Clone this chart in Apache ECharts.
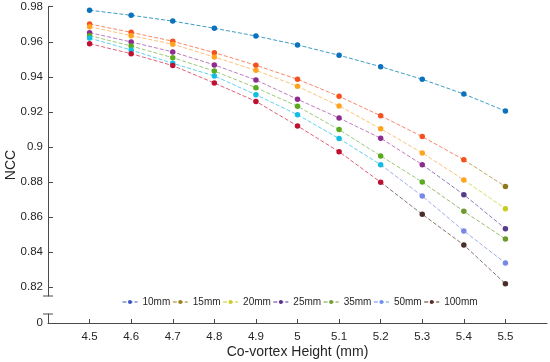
<!DOCTYPE html>
<html>
<head>
<meta charset="utf-8">
<script src="https://cdn.jsdelivr.net/npm/echarts@6/dist/echarts.min.js"></script>
<style>html,body{margin:0;padding:0;background:#fff}#c{width:550px;height:362px}</style>
</head>
<body>
<div id="c"></div>
<script>
// ---- data ----
const heights = [4.5, 4.6, 4.7, 4.8, 4.9, 5.0, 5.1, 5.2, 5.3, 5.4, 5.5];
const seriesNames = ['10mm', '15mm', '20mm', '25mm', '35mm', '50mm', '100mm'];
const ncc10  = [0.9780, 0.9751, 0.9718, 0.9677, 0.9633, 0.9582, 0.9523, 0.9458, 0.9386, 0.9302, 0.9205];
const ncc15  = [0.9701, 0.9654, 0.9603, 0.9538, 0.9466, 0.9386, 0.9289, 0.9178, 0.9059, 0.8927, 0.8774];
const ncc20  = [0.9686, 0.9635, 0.9586, 0.9513, 0.9437, 0.9346, 0.9234, 0.9104, 0.8966, 0.8812, 0.8648];
const ncc25  = [0.9652, 0.9599, 0.9542, 0.9468, 0.9382, 0.9272, 0.9165, 0.9050, 0.8899, 0.8728, 0.8534];
const ncc35  = [0.9635, 0.9576, 0.9509, 0.9433, 0.9338, 0.9232, 0.9099, 0.8949, 0.8800, 0.8633, 0.8475];
const ncc50  = [0.9621, 0.9553, 0.9477, 0.9405, 0.9298, 0.9184, 0.9048, 0.8899, 0.8720, 0.8521, 0.8338];
const ncc100 = [0.9589, 0.9532, 0.9464, 0.9365, 0.9260, 0.9120, 0.8973, 0.8799, 0.8616, 0.8441, 0.8220];
const yTickValues = [0.82, 0.84, 0.86, 0.88, 0.9, 0.92, 0.94, 0.96, 0.98];
const xTickValues = [4.5, 4.6, 4.7, 4.8, 4.9, 5, 5.1, 5.2, 5.3, 5.4, 5.5];
const bottomTickValues = [0];
// index from which points are drawn in the second (overlay) colour
const tailStart = [null, 10, 10, 9, 9, 8, 8];

// ---- styles ----
const allValues = [ncc10, ncc15, ncc20, ncc25, ncc35, ncc50, ncc100];
const markerColors = ['#0b72bd', '#f4511e', '#ffa41f', '#8e2c8e', '#5aaa1e', '#13bde2', '#c0102f'];
const lineColors   = ['#3d9dc6', '#f9896a', '#fdc27c', '#c07bc0', '#9acb78', '#5fd3ec', '#e06078'];
const tailMarker   = [null, '#8c7a1e', '#c8cc22', '#563a8c', '#6c9a2c', '#7888e8', '#4a2e2a'];
const tailLine     = [null, '#c0a864', '#d8dc6a', '#8e78b8', '#9cbc6e', '#a0acf0', '#8a7470'];
const legendColors = ['#3f55c4', '#9c7e1c', '#cccc22', '#5a2f8f', '#6fa030', '#6e90ee', '#5a2c26'];

const FONT = 'Liberation Sans, Arial, Helvetica, sans-serif';
const AXIS_COLOR = '#4a4a4a';
const TEXT_COLOR = '#262626';
const DASH = [4, 2];

const series = [];
seriesNames.forEach((name, i) => {
  const vals = allValues[i];
  const ts = tailStart[i];
  const mainEnd = ts == null ? heights.length : ts;
  series.push({
    name: name,
    type: 'line',
    xAxisIndex: 0, yAxisIndex: 0,
    z: 4,
    symbol: 'circle', symbolSize: 5.5,
    showAllSymbol: true,
    itemStyle: { color: markerColors[i] },
    lineStyle: { color: lineColors[i], width: 1, type: DASH },
    emphasis: { disabled: true },
    animation: false,
    data: heights.slice(0, mainEnd).map((h, j) => [h, vals[j]])
  });
  if (ts != null) {
    const tailData = [];
    for (let j = ts - 1; j < heights.length; j++) {
      if (j === ts - 1) tailData.push({ value: [heights[j], vals[j]], symbolSize: 0 });
      else tailData.push([heights[j], vals[j]]);
    }
    series.push({
      name: name + '_tail',
      type: 'line',
      xAxisIndex: 0, yAxisIndex: 0,
      z: 3,
      symbol: 'circle', symbolSize: 5.5,
      showAllSymbol: true,
      itemStyle: { color: tailMarker[i] },
      lineStyle: { color: tailLine[i], width: 1, type: DASH },
      emphasis: { disabled: true },
      animation: false,
      data: tailData
    });
  }
});

const chart = echarts.init(document.getElementById('c'), null, { renderer: 'canvas' });
const option = {
  animation: false,
  backgroundColor: '#fff',
  textStyle: { fontFamily: FONT },
  grid: [
    { left: 48, right: 3, top: 6.7, height: 289.3 },
    { left: 48, right: 3, top: 314, height: 9 }
  ],
  xAxis: [
    {
      gridIndex: 0, type: 'value', min: 4.4, max: 5.6,
      show: false
    },
    {
      gridIndex: 1, type: 'value', min: 4.4, max: 5.6,
      name: 'Co-vortex Height (mm)',
      nameLocation: 'middle', nameGap: 22,
      nameTextStyle: { fontSize: 14, color: TEXT_COLOR, fontFamily: FONT },
      axisLine: { show: true, onZero: false, lineStyle: { color: AXIS_COLOR, width: 1 } },
      axisTick: { show: true, inside: true, length: 4, customValues: xTickValues, lineStyle: { color: AXIS_COLOR } },
      axisLabel: { show: true, customValues: xTickValues, margin: 8, fontSize: 11.5, color: TEXT_COLOR, fontFamily: FONT },
      splitLine: { show: false }
    }
  ],
  yAxis: [
    {
      gridIndex: 0, type: 'value', min: 0.815, max: 0.98,
      axisLine: { show: true, onZero: false, symbol: ['rect', 'none'], symbolSize: [10, 1], lineStyle: { color: AXIS_COLOR, width: 1 } },
      axisTick: { show: true, inside: true, length: 5, customValues: yTickValues, lineStyle: { color: AXIS_COLOR } },
      axisLabel: { show: true, customValues: yTickValues, margin: 5, fontSize: 11.5, color: TEXT_COLOR, fontFamily: FONT },
      splitLine: { show: false }
    },
    {
      gridIndex: 1, type: 'value', min: 0, max: 1,
      axisLine: { show: true, onZero: false, symbol: ['none', 'rect'], symbolSize: [10, 1], lineStyle: { color: AXIS_COLOR, width: 1 } },
      axisTick: { show: false, customValues: bottomTickValues },
      axisLabel: { show: true, customValues: bottomTickValues, margin: 5, fontSize: 11.5, color: TEXT_COLOR, fontFamily: FONT },
      splitLine: { show: false }
    }
  ],
  legend: {
    left: 122, top: 297,
    orient: 'horizontal',
    padding: 0,
    itemGap: 2,
    itemWidth: 15, itemHeight: 5,
    textStyle: { fontSize: 10, color: TEXT_COLOR, fontFamily: FONT },
    data: seriesNames.map((n, i) => ({
      name: n,
      itemStyle: { color: legendColors[i] },
      lineStyle: { color: legendColors[i], type: DASH, width: 1 }
    }))
  },
  graphic: [
    {
      type: 'text',
      x: 11, y: 165,
      rotation: Math.PI / 2,
      style: { text: 'NCC', fontSize: 14, fontFamily: FONT, fill: TEXT_COLOR, align: 'center', verticalAlign: 'middle' }
    }
  ],
  series: series
};
chart.setOption(option);
</script>
</body>
</html>
